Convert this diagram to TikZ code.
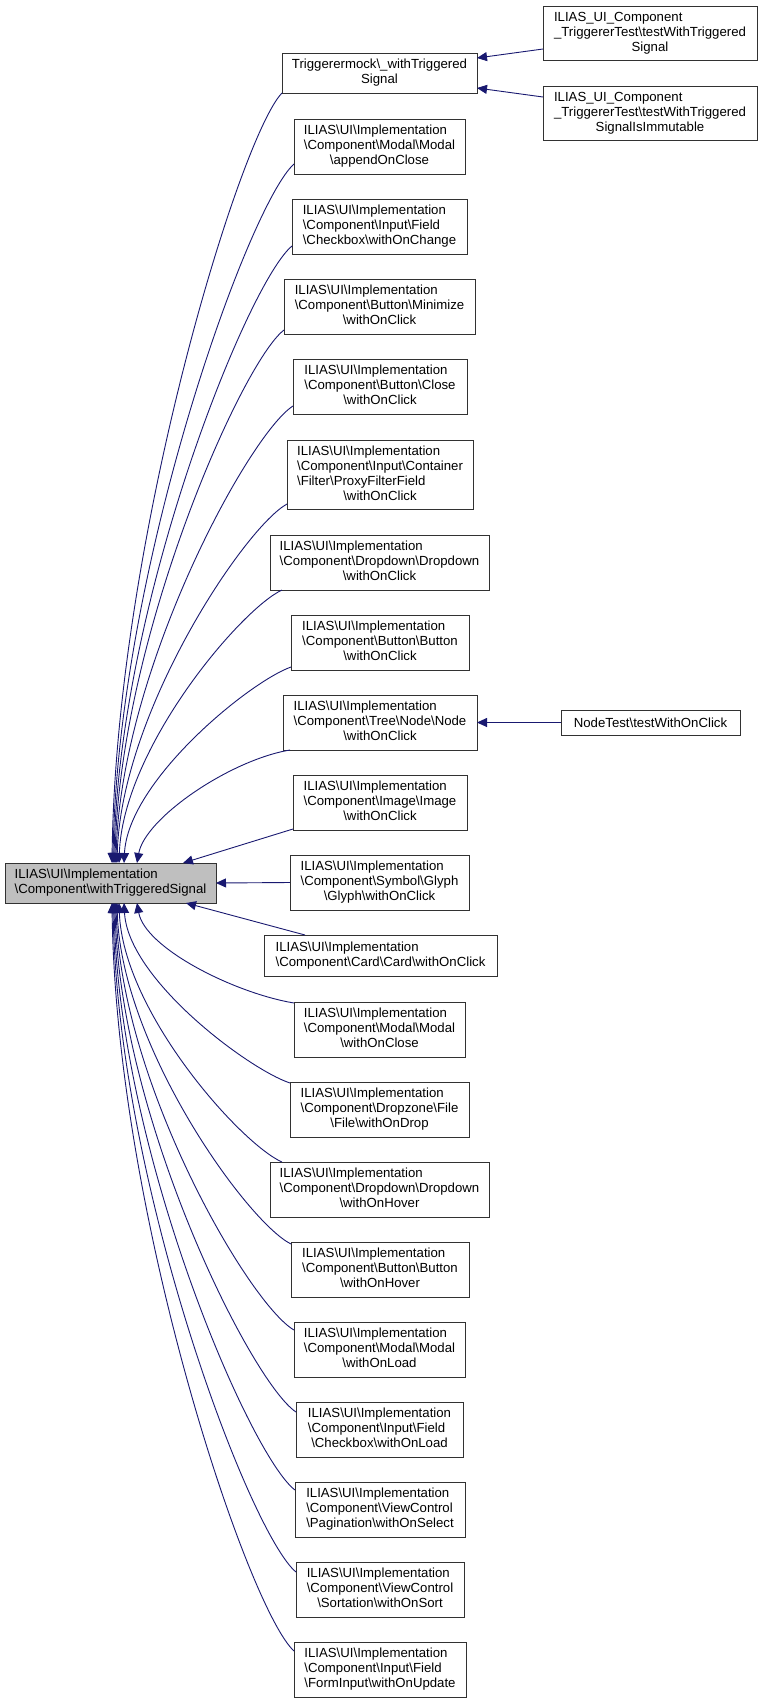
\documentclass[tikz,border=0pt]{standalone}
\usepackage{fontspec}
\setmainfont{Liberation Sans}
\usetikzlibrary{arrows.meta}
\definecolor{edgeblue}{RGB}{25,25,112}
\definecolor{boxline}{RGB}{50,50,50}
\definecolor{mainfill}{RGB}{191,191,191}
\newcommand\bksl{\textbackslash}
\newcommand\ilias{ILIAS\bksl UI\bksl Implementation}
\newcommand\comp{\bksl Component}
\newcommand\lbl[2]{\begin{tabular}{@{}l@{}}#1\\\multicolumn{1}{@{}c@{}}{#2}\end{tabular}}
\begin{document}
\begin{tikzpicture}[x=1pt,y=-1pt,
  box/.style={draw=boxline, line width=0.9pt, inner sep=0pt, outer sep=0pt, anchor=north west,
    font=\fontsize{13.2pt}{15pt}\selectfont},
  conn/.style={draw=edgeblue, line width=0.9pt, -{Triangle[length=10pt,width=9pt]}}]
\useasboundingbox (0,0) rectangle (763,1703);
% main node
\node[box, fill=mainfill, minimum width=211pt, minimum height=40pt] (main) at (5,863) {\lbl{\ilias}{\comp\bksl withTriggeredSignal}};
% left column
\node[box, minimum width=195pt, minimum height=40pt] (trig) at (282,53) {\lbl{Triggerermock\bksl\_withTriggered}{Signal}};
\node[box, minimum width=171pt, minimum height=55pt] (n2) at (294,119) {\lbl{\ilias\\\comp\bksl Modal\bksl Modal}{\bksl appendOnClose}};
\node[box, minimum width=175pt, minimum height=55pt] (n3) at (292,199) {\lbl{\ilias\\\comp\bksl Input\bksl Field}{\bksl Checkbox\bksl withOnChange}};
\node[box, minimum width=191pt, minimum height=55pt] (n4) at (284,279) {\lbl{\ilias\\\comp\bksl Button\bksl Minimize}{\bksl withOnClick}};
\node[box, minimum width=174pt, minimum height=55pt] (n5) at (293,359) {\lbl{\ilias\\\comp\bksl Button\bksl Close}{\bksl withOnClick}};
\node[box, minimum width=186pt, minimum height=69pt] (n6) at (287,440) {\lbl{\ilias\\\comp\bksl Input\bksl Container\\\bksl Filter\bksl ProxyFilterField}{\bksl withOnClick}};
\node[box, minimum width=219pt, minimum height=55pt] (n7) at (270,535) {\lbl{\ilias\\\comp\bksl Dropdown\bksl Dropdown}{\bksl withOnClick}};
\node[box, minimum width=178pt, minimum height=55pt] (n8) at (291,615) {\lbl{\ilias\\\comp\bksl Button\bksl Button}{\bksl withOnClick}};
\node[box, minimum width=194pt, minimum height=55pt] (n9) at (283,695) {\lbl{\ilias\\\comp\bksl Tree\bksl Node\bksl Node}{\bksl withOnClick}};
\node[box, minimum width=174pt, minimum height=55pt] (n10) at (293,775) {\lbl{\ilias\\\comp\bksl Image\bksl Image}{\bksl withOnClick}};
\node[box, minimum width=179pt, minimum height=55pt] (n11) at (290,855) {\lbl{\ilias\\\comp\bksl Symbol\bksl Glyph}{\bksl Glyph\bksl withOnClick}};
\node[box, minimum width=233pt, minimum height=41pt] (n12) at (264,935) {\lbl{\ilias}{\comp\bksl Card\bksl Card\bksl withOnClick}};
\node[box, minimum width=171pt, minimum height=55pt] (n13) at (294,1002) {\lbl{\ilias\\\comp\bksl Modal\bksl Modal}{\bksl withOnClose}};
\node[box, minimum width=179pt, minimum height=55pt] (n14) at (290,1082) {\lbl{\ilias\\\comp\bksl Dropzone\bksl File}{\bksl File\bksl withOnDrop}};
\node[box, minimum width=219pt, minimum height=55pt] (n15) at (270,1162) {\lbl{\ilias\\\comp\bksl Dropdown\bksl Dropdown}{\bksl withOnHover}};
\node[box, minimum width=178pt, minimum height=55pt] (n16) at (291,1242) {\lbl{\ilias\\\comp\bksl Button\bksl Button}{\bksl withOnHover}};
\node[box, minimum width=171pt, minimum height=55pt] (n17) at (294,1322) {\lbl{\ilias\\\comp\bksl Modal\bksl Modal}{\bksl withOnLoad}};
\node[box, minimum width=167pt, minimum height=55pt] (n18) at (296,1402) {\lbl{\ilias\\\comp\bksl Input\bksl Field}{\bksl Checkbox\bksl withOnLoad}};
\node[box, minimum width=170pt, minimum height=55pt] (n19) at (295,1482) {\lbl{\ilias\\\comp\bksl ViewControl}{\bksl Pagination\bksl withOnSelect}};
\node[box, minimum width=168pt, minimum height=55pt] (n20) at (296,1562) {\lbl{\ilias\\\comp\bksl ViewControl}{\bksl Sortation\bksl withOnSort}};
\node[box, minimum width=172pt, minimum height=55pt] (n21) at (294,1642) {\lbl{\ilias\\\comp\bksl Input\bksl Field}{\bksl FormInput\bksl withOnUpdate}};
% right column
\node[box, minimum width=214pt, minimum height=54pt] (r1) at (543,6) {\lbl{ILIAS\_UI\_Component\\\_TriggererTest\bksl testWithTriggered}{Signal}};
\node[box, minimum width=214pt, minimum height=54pt] (r2) at (543,86) {\lbl{ILIAS\_UI\_Component\\\_TriggererTest\bksl testWithTriggered}{SignalIsImmutable}};
\node[box, minimum width=179pt, minimum height=25pt] (r3) at (561,710) {NodeTest\bksl testWithOnClick};
% edges into the top of main
\draw[conn] (trig.south west) .. controls +(-42,43) and +(4,-323) .. ([xshift=107pt]main.north west);
\draw[conn] ([yshift=10pt]n2.south west) .. controls +(-45,40) and +(4,-294) .. ([xshift=108pt]main.north west);
\draw[conn] ([yshift=8pt]n3.south west) .. controls +(-44,36) and +(4,-259) .. ([xshift=109pt]main.north west);
\draw[conn] ([yshift=4pt]n4.south west) .. controls +(-42,32) and +(4,-224) .. ([xshift=110pt]main.north west);
\draw[conn] ([yshift=8pt]n5.south west) .. controls +(-44,28) and +(4,-192) .. ([xshift=111pt]main.north west);
\draw[conn] ([yshift=5pt]n6.south west) .. controls +(-42,23) and +(4,-151) .. ([xshift=112pt]main.north west);
\draw[conn] ([xshift=12pt]n7.south west) .. controls +(-41,19) and +(4,-115) .. ([xshift=114pt]main.north west);
\draw[conn] ([yshift=3pt]n8.south west) .. controls +(-42,15) and +(4,-82) .. ([xshift=119pt]main.north west);
\draw[conn] ([xshift=7pt]n9.south west) .. controls +(-60,10) and +(8,-45) .. ([xshift=132pt]main.north west);
\draw[conn] ([yshift=1pt]n10.south west) -- ([xshift=178pt]main.north west);
\draw[conn] (n11.west) -- (main.east);
% edges into the bottom of main
\draw[conn] ([xshift=41pt]n12.north west) -- ([xshift=181pt]main.south west);
\draw[conn] ([yshift=-1pt]n13.north west) .. controls +(-60,-10) and +(8,45) .. ([xshift=132pt]main.south west);
\draw[conn] ([yshift=-1pt]n14.north west) .. controls +(-42,-14) and +(4,76) .. ([xshift=119pt]main.south west);
\draw[conn] ([xshift=12pt]n15.north west) .. controls +(-41,-18) and +(4,109) .. ([xshift=114pt]main.south west);
\draw[conn] ([yshift=-2pt]n16.north west) .. controls +(-44,-22) and +(4,143) .. ([xshift=112pt]main.south west);
\draw[conn] ([yshift=-8pt]n17.north west) .. controls +(-45,-26) and +(4,179) .. ([xshift=111pt]main.south west);
\draw[conn] ([yshift=-10pt]n18.north west) .. controls +(-45,-30) and +(4,214) .. ([xshift=110pt]main.south west);
\draw[conn] ([yshift=-8pt]n19.north west) .. controls +(-45,-34) and +(4,247) .. ([xshift=109pt]main.south west);
\draw[conn] ([yshift=-10pt]n20.north west) .. controls +(-46,-38) and +(4,281) .. ([xshift=108pt]main.south west);
\draw[conn] ([yshift=-9pt]n21.north west) .. controls +(-46,-42) and +(4,314) .. ([xshift=107pt]main.south west);
% right edges
\draw[conn] ([yshift=-16pt]r1.west) -- ([yshift=15pt]trig.east);
\draw[conn] ([yshift=16pt]r2.west) -- ([yshift=-15pt]trig.east);
\draw[conn] (r3.west) -- (n9.east);
\end{tikzpicture}
\end{document}
